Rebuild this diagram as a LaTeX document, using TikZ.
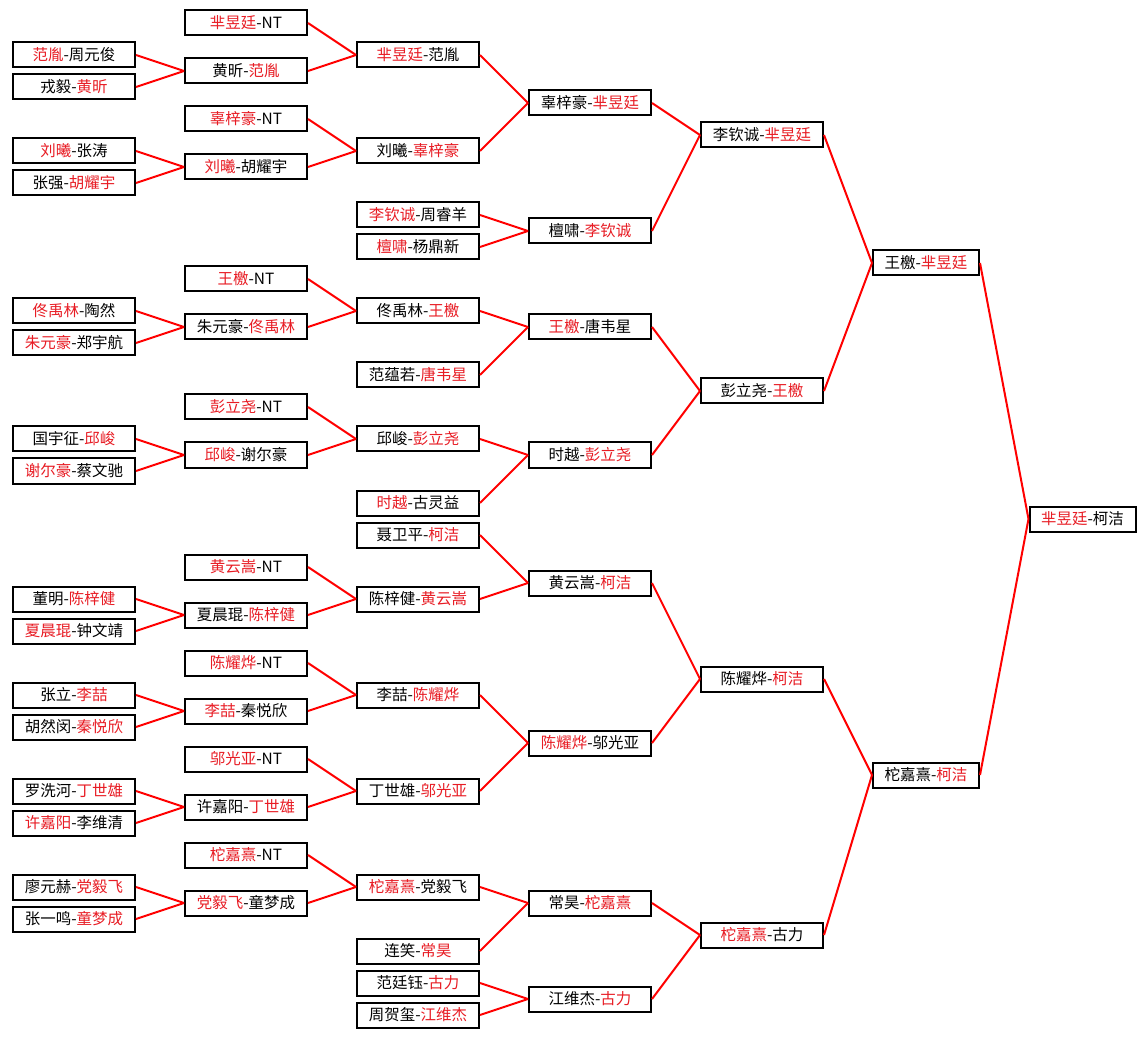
\documentclass[tikz,border=0pt]{standalone}
\usepackage{fontspec}
\setmainfont{Noto Sans CJK SC}
\definecolor{winred}{RGB}{232,28,36}
\newcommand{\winner}[1]{\textcolor{winred}{#1}}
\tikzstyle{match} = [
    rectangle,
    minimum width=91.5pt,
    minimum height=18.75pt,
    inner sep=0pt,
    draw=black,
    line width=1.5pt,
    fill=white,
    font=\fontsize{11.6}{13}\selectfont
]
\tikzstyle{late} = [
    match,
    minimum width=79.5pt
]
\tikzstyle{link} = [red, line width=1.5pt]

\begin{document}
\begin{tikzpicture}[x=0.75pt, y=-0.75pt]

\fill[white] (0,0) rectangle (1146,1037);
\useasboundingbox (0,0) rectangle (1146,1037);

% first round
\node (r0k2) [match] at (74,55) {\winner{范胤}-周元俊};
\node (r0k4) [match] at (74,87) {戎毅-\winner{黄昕}};
\node (r0k8) [match] at (74,151) {\winner{刘曦}-张涛};
\node (r0k10) [match] at (74,183) {张强-\winner{胡耀宇}};
\node (r0k18) [match] at (74,311) {\winner{佟禹林}-陶然};
\node (r0k20) [match] at (74,343) {\winner{朱元豪}-郑宇航};
\node (r0k26) [match] at (74,439) {国宇征-\winner{邱峻}};
\node (r0k28) [match] at (74,471) {\winner{谢尔豪}-蔡文驰};
\node (r0k36) [match] at (74,599) {董明-\winner{陈梓健}};
\node (r0k38) [match] at (74,631) {\winner{夏晨琨}-钟文靖};
\node (r0k42) [match] at (74,695) {张立-\winner{李喆}};
\node (r0k44) [match] at (74,727) {胡然闵-\winner{秦悦欣}};
\node (r0k48) [match] at (74,791) {罗洗河-\winner{丁世雄}};
\node (r0k50) [match] at (74,823) {\winner{许嘉阳}-李维清};
\node (r0k54) [match] at (74,887) {廖元赫-\winner{党毅飞}};
\node (r0k56) [match] at (74,919) {张一鸣-\winner{童梦成}};

% second round
\node (r1k0) [match] at (246,23) {\winner{芈昱廷}-NT};
\node (r1k3) [match] at (246,71) {黄昕-\winner{范胤}};
\node (r1k6) [match] at (246,119) {\winner{辜梓豪}-NT};
\node (r1k9) [match] at (246,167) {\winner{刘曦}-胡耀宇};
\node (r1k16) [match] at (246,279) {\winner{王檄}-NT};
\node (r1k19) [match] at (246,327) {朱元豪-\winner{佟禹林}};
\node (r1k24) [match] at (246,407) {\winner{彭立尧}-NT};
\node (r1k27) [match] at (246,455) {\winner{邱峻}-谢尔豪};
\node (r1k34) [match] at (246,567) {\winner{黄云嵩}-NT};
\node (r1k37) [match] at (246,615) {夏晨琨-\winner{陈梓健}};
\node (r1k40) [match] at (246,663) {\winner{陈耀烨}-NT};
\node (r1k43) [match] at (246,711) {\winner{李喆}-秦悦欣};
\node (r1k46) [match] at (246,759) {\winner{邬光亚}-NT};
\node (r1k49) [match] at (246,807) {许嘉阳-\winner{丁世雄}};
\node (r1k52) [match] at (246,855) {\winner{柁嘉熹}-NT};
\node (r1k55) [match] at (246,903) {\winner{党毅飞}-童梦成};

% third round
\node (r2k2) [match] at (418,55) {\winner{芈昱廷}-范胤};
\node (r2k8) [match] at (418,151) {刘曦-\winner{辜梓豪}};
\node (r2k12) [match] at (418,215) {\winner{李钦诚}-周睿羊};
\node (r2k14) [match] at (418,247) {\winner{檀啸}-杨鼎新};
\node (r2k18) [match] at (418,311) {佟禹林-\winner{王檄}};
\node (r2k22) [match] at (418,375) {范蕴若-\winner{唐韦星}};
\node (r2k26) [match] at (418,439) {邱峻-\winner{彭立尧}};
\node (r2k30) [match] at (418,503) {\winner{时越}-古灵益};
\node (r2k32) [match] at (418,535) {聂卫平-\winner{柯洁}};
\node (r2k36) [match] at (418,599) {陈梓健-\winner{黄云嵩}};
\node (r2k42) [match] at (418,695) {李喆-\winner{陈耀烨}};
\node (r2k48) [match] at (418,791) {丁世雄-\winner{邬光亚}};
\node (r2k54) [match] at (418,887) {\winner{柁嘉熹}-党毅飞};
\node (r2k58) [match] at (418,951) {连笑-\winner{常昊}};
\node (r2k60) [match] at (418,983) {范廷钰-\winner{古力}};
\node (r2k62) [match] at (418,1015) {周贺玺-\winner{江维杰}};

% last sixteen
\node (r3k5) [match] at (590,103) {辜梓豪-\winner{芈昱廷}};
\node (r3k13) [match] at (590,231) {檀啸-\winner{李钦诚}};
\node (r3k19) [match] at (590,327) {\winner{王檄}-唐韦星};
\node (r3k27) [match] at (590,455) {时越-\winner{彭立尧}};
\node (r3k35) [match] at (590,583) {黄云嵩-\winner{柯洁}};
\node (r3k45) [match] at (590,743) {\winner{陈耀烨}-邬光亚};
\node (r3k55) [match] at (590,903) {常昊-\winner{柁嘉熹}};
\node (r3k61) [match] at (590,999) {江维杰-\winner{古力}};

% quarter finals
\node (r4k7) [match] at (762,135) {李钦诚-\winner{芈昱廷}};
\node (r4k23) [match] at (762,391) {彭立尧-\winner{王檄}};
\node (r4k41) [match] at (762,679) {陈耀烨-\winner{柯洁}};
\node (r4k57) [match] at (762,935) {\winner{柁嘉熹}-古力};

% semi finals and final
\node (r5k15) [late] at (926,263) {王檄-\winner{芈昱廷}};
\node (r5k47) [late] at (926,775) {柁嘉熹-\winner{柯洁}};
\node (r6k31) [late] at (1082.5,519) {\winner{芈昱廷}-柯洁};

\draw [link] (r0k2.east) -- (r1k3.west);
\draw [link] (r0k4.east) -- (r1k3.west);
\draw [link] (r0k8.east) -- (r1k9.west);
\draw [link] (r0k10.east) -- (r1k9.west);
\draw [link] (r0k18.east) -- (r1k19.west);
\draw [link] (r0k20.east) -- (r1k19.west);
\draw [link] (r0k26.east) -- (r1k27.west);
\draw [link] (r0k28.east) -- (r1k27.west);
\draw [link] (r0k36.east) -- (r1k37.west);
\draw [link] (r0k38.east) -- (r1k37.west);
\draw [link] (r0k42.east) -- (r1k43.west);
\draw [link] (r0k44.east) -- (r1k43.west);
\draw [link] (r0k48.east) -- (r1k49.west);
\draw [link] (r0k50.east) -- (r1k49.west);
\draw [link] (r0k54.east) -- (r1k55.west);
\draw [link] (r0k56.east) -- (r1k55.west);

\draw [link] (r1k0.east) -- (r2k2.west);
\draw [link] (r1k3.east) -- (r2k2.west);
\draw [link] (r1k6.east) -- (r2k8.west);
\draw [link] (r1k9.east) -- (r2k8.west);
\draw [link] (r1k16.east) -- (r2k18.west);
\draw [link] (r1k19.east) -- (r2k18.west);
\draw [link] (r1k24.east) -- (r2k26.west);
\draw [link] (r1k27.east) -- (r2k26.west);
\draw [link] (r1k34.east) -- (r2k36.west);
\draw [link] (r1k37.east) -- (r2k36.west);
\draw [link] (r1k40.east) -- (r2k42.west);
\draw [link] (r1k43.east) -- (r2k42.west);
\draw [link] (r1k46.east) -- (r2k48.west);
\draw [link] (r1k49.east) -- (r2k48.west);
\draw [link] (r1k52.east) -- (r2k54.west);
\draw [link] (r1k55.east) -- (r2k54.west);

\draw [link] (r2k2.east) -- (r3k5.west);
\draw [link] (r2k8.east) -- (r3k5.west);
\draw [link] (r2k12.east) -- (r3k13.west);
\draw [link] (r2k14.east) -- (r3k13.west);
\draw [link] (r2k18.east) -- (r3k19.west);
\draw [link] (r2k22.east) -- (r3k19.west);
\draw [link] (r2k26.east) -- (r3k27.west);
\draw [link] (r2k30.east) -- (r3k27.west);
\draw [link] (r2k32.east) -- (r3k35.west);
\draw [link] (r2k36.east) -- (r3k35.west);
\draw [link] (r2k42.east) -- (r3k45.west);
\draw [link] (r2k48.east) -- (r3k45.west);
\draw [link] (r2k54.east) -- (r3k55.west);
\draw [link] (r2k58.east) -- (r3k55.west);
\draw [link] (r2k60.east) -- (r3k61.west);
\draw [link] (r2k62.east) -- (r3k61.west);

\draw [link] (r3k5.east) -- (r4k7.west);
\draw [link] (r3k13.east) -- (r4k7.west);
\draw [link] (r3k19.east) -- (r4k23.west);
\draw [link] (r3k27.east) -- (r4k23.west);
\draw [link] (r3k35.east) -- (r4k41.west);
\draw [link] (r3k45.east) -- (r4k41.west);
\draw [link] (r3k55.east) -- (r4k57.west);
\draw [link] (r3k61.east) -- (r4k57.west);

\draw [link] (r4k7.east) -- (r5k15.west);
\draw [link] (r4k23.east) -- (r5k15.west);
\draw [link] (r4k41.east) -- (r5k47.west);
\draw [link] (r4k57.east) -- (r5k47.west);

\draw [link] (r5k15.east) -- (r6k31.west);
\draw [link] (r5k47.east) -- (r6k31.west);

\end{tikzpicture}
\end{document}
